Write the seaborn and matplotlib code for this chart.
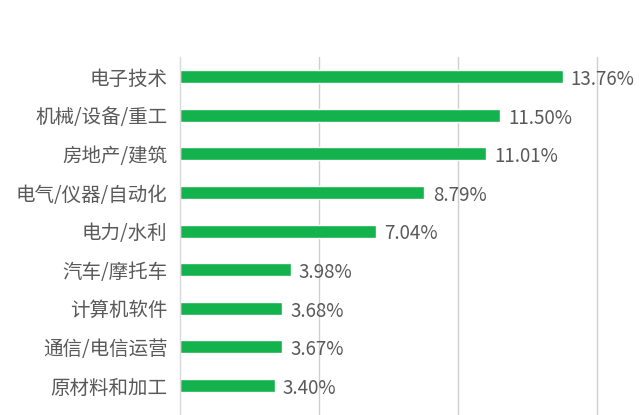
import matplotlib
matplotlib.use("Agg")
import matplotlib.pyplot as plt
import seaborn as sns
import pandas as pd
import numpy as np

categories = ["电子技术", "机械/设备/重工", "房地产/建筑", "电气/仪器/自动化", "电力/水利",
              "汽车/摩托车", "计算机软件", "通信/电信运营", "原材料和加工"]
values = [13.76, 11.50, 11.01, 8.79, 7.04, 3.98, 3.68, 3.67, 3.40]
value_labels = ["13.76%", "11.50%", "11.01%", "8.79%", "7.04%", "3.98%", "3.68%", "3.67%", "3.40%"]

sns.set_style("white")
plt.rcParams['font.family'] = ['Noto Sans CJK SC', 'DejaVu Sans']

W, H = 640, 415
fig = plt.figure(figsize=(W / 100, H / 100), dpi=100)
left = 180 / W
top_px = 57.4
ax = fig.add_axes([left, 0.0, (736 - 180) / W, 1 - top_px / H])

df = pd.DataFrame({"cat": categories, "val": values})
sns.barplot(data=df, x="val", y="cat", orient="h", color="#13B24C", width=0.34,
            saturation=1, ax=ax)

ax.set_xlim(0, 20)
ax.set_ylim((H - 76.7) / 38.6, -0.5)
ax.set_xlabel("")
ax.set_ylabel("")

for i, (v, lab) in enumerate(zip(values, value_labels)):
    ax.annotate(lab, xy=(v, i), xytext=(6, -2), textcoords="offset points",
                ha="left", va="center", fontsize=13.5, color="#595959")

ax.set_xticks([5, 10, 15, 20])
ax.set_xticklabels([])
ax.tick_params(axis="x", length=0)
ax.grid(axis="x", color="#CFCFCF", linewidth=1.0)
ax.set_axisbelow(True)

ax.tick_params(axis="y", which="major", length=0, labelsize=14, labelcolor="#595959", pad=9)
ax.set_yticks(np.arange(-0.5, 9.5, 1.0), minor=True)
ax.tick_params(axis="y", which="minor", length=7, color="#D9D9D9", width=1)

for s in ["top", "right", "bottom"]:
    ax.spines[s].set_visible(False)
ax.spines["left"].set_color("#D9D9D9")
ax.spines["left"].set_linewidth(1)

fig.savefig("out.png", dpi=100)
